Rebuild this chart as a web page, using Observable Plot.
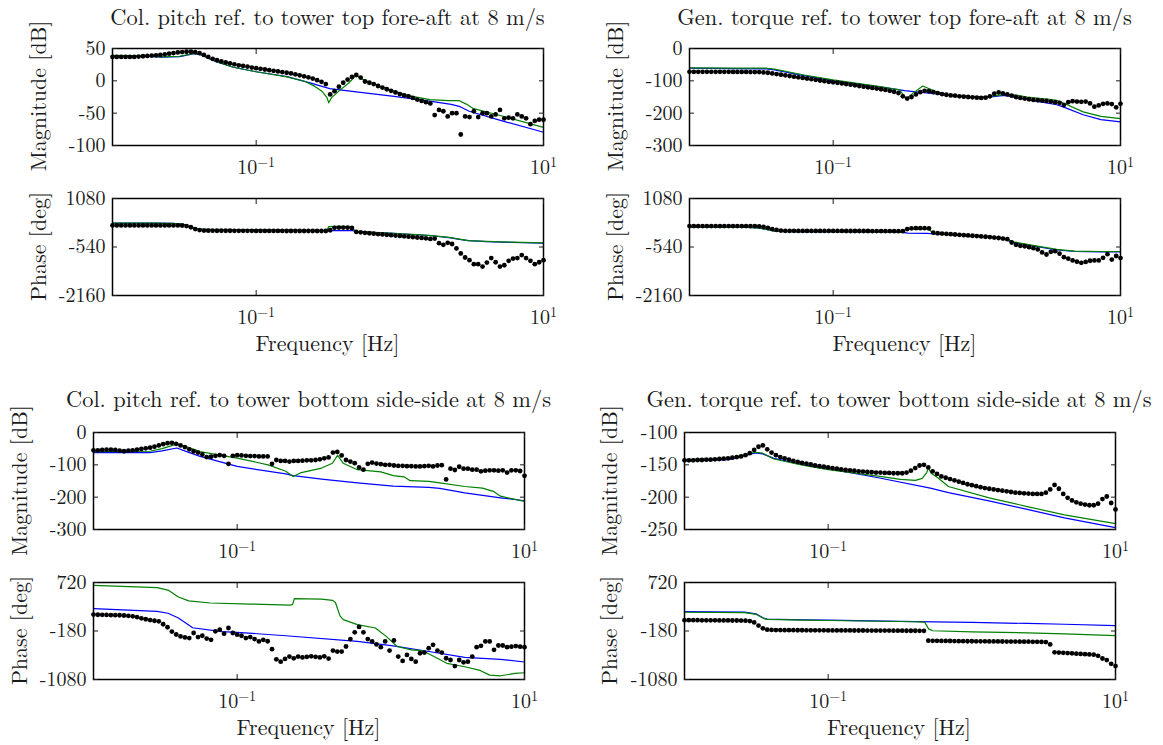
<!DOCTYPE html>
<html>
<head>
<meta charset="utf-8">
<script src="https://cdn.jsdelivr.net/npm/d3@7"></script>
<script src="https://cdn.jsdelivr.net/npm/@observablehq/plot@0.6"></script>
<style>
html,body{margin:0;padding:0;background:#fff;}
#fig{position:relative;width:1163px;height:745px;overflow:hidden;background:#fff;font-family:'Latin Modern Roman','Liberation Serif',serif;color:#1a1a1a;}
#fig svg{position:absolute;}
</style>
</head>
<body>
<div id="fig"></div>
<script>
// ---------------- DATA ----------------
const titles = [
  "Col. pitch ref. to tower top fore-aft at 8 m/s",
  "Gen. torque ref. to tower top fore-aft at 8 m/s",
  "Col. pitch ref. to tower bottom side-side at 8 m/s",
  "Gen. torque ref. to tower bottom side-side at 8 m/s"
];
const magLabel = "Magnitude [dB]";
const phaseLabel = "Phase [deg]";
const freqLabel = "Frequency [Hz]";

const xTicks = [0.1, 10];
const xTickLabels = ["10^-1", "10^1"];

const tlMagTicks = [-100, -50, 0, 50];
const trMagTicks = [-300, -200, -100, 0];
const blMagTicks = [-300, -200, -100, 0];
const brMagTicks = [-250, -200, -150, -100];
const topPhaseTicks = [-2160, -540, 1080];
const bottomPhaseTicks = [-1080, -180, 720];

// frequencies of the measured (black) points
const dotFreq = [0.01,0.01072,0.0115,0.01233,0.01322,0.01418,0.0152,0.0163,0.01748,0.01874,
0.02009,0.02154,0.0231,0.02477,0.02656,0.02848,0.03054,0.03275,0.03511,0.03765,
0.04037,0.04329,0.04642,0.04977,0.05337,0.05722,0.06136,0.06579,0.07055,0.07565,
0.08111,0.08697,0.09326,
0.1,0.1072,0.115,0.1233,0.1322,0.1418,0.152,0.163,0.1748,0.1874,
0.2009,0.2154,0.231,0.2477,0.2656,0.2848,0.3054,0.3275,0.3511,0.3765,
0.4037,0.4329,0.4642,0.4977,0.5337,0.5722,0.6136,0.6579,0.7055,0.7565,
0.8111,0.8697,0.9326,
1,1.072,1.15,1.233,1.322,1.418,1.52,1.63,1.748,1.874,
2.009,2.154,2.31,2.477,2.656,2.848,3.054,3.275,3.511,3.765,
4.037,4.329,4.642,4.977,5.337,5.722,6.136,6.579,7.055,7.565,
8.111,8.697,9.326,10];

// ---- top-left: col. pitch -> tower top fore-aft
const tlMagDots = [37,37,37,37,37,37,37.5,38,38.5,39, 39.5,40,41,42,43,44,44.5,45,45,44.5,
 43,40,37,34,32,30,28.5,27,25.5,24, 23,22,20.5,19.5,18.5,17.5,16.5,15.5,14.5,13.5,
 12.5,11.5,10,8.5,7,5.5,3.5,1,-1.5,-5, -21,-16,-9,-3,2,6,9,5,-1,-3,
 -5,-8,-10.5,-13,-15.5,-18,-20.5,-22.5,-24,-26.5, -29,-31,-33,-35,-53,-45,-47,-55,-50,-50,
 -83,-55,-56,-47,-56,-50,-50,-55,-52,-45, -58,-57,-58,-52,-55,-58,-67,-62,-60,-60];
const tlMagBlue = [[0.01,39],[0.0166,38],[0.022,36.5],[0.0294,37.5],[0.0369,42],[0.0414,40],[0.052,30],[0.0693,21],[0.1,14],[0.164,6.5],[0.244,-4],[0.325,-12],[0.514,-17.5],[0.912,-24],[1.617,-31.5],[2.28,-36.5],[2.63,-40],[3.04,-47],[5.08,-61.5],[10,-79.5]];
const tlMagGreen = [[0.01,39.5],[0.0166,38.5],[0.022,37],[0.0294,38],[0.0369,42.5],[0.0414,40.5],[0.052,30.5],[0.0693,21],[0.1,14],[0.164,6],[0.22,-1],[0.258,-9],[0.29,-17],[0.311,-26],[0.32,-34],[0.335,-26],[0.385,-14],[0.443,-3],[0.497,9],[0.54,3],[0.68,-6],[0.912,-16],[1.22,-24],[1.62,-29],[2.17,-30.5],[2.58,-30.5],[2.9,-36],[3.26,-43],[5.08,-54],[10,-72]];
const tlPhaseDots = [180,180,180,180,180,180,180,180,180,180,180,180,180,180,180,180,
 175,160,120,60,25,10,
 5,5,3,3,2,2,0,0,0,0, 0,-2,-2,-2,-3,-3,-3,-3,-5,-5, -5,-5,-5,-5,-5,-5,-5,-5,
 20,100,108,108,105,95,
 -35,-50,-65,-80,-95,-108,-120,-132,-145,-158,-170,-183,-195,-208,-222,-238,
 -250,-270,-258,-413,-469,-400,-439,-587,-756,-891,-979,-1114,-1114,-1195,-1060,-911,-1050,-1195,-1150,-1002,-926,-911,-810,-911,-1002,-1114,-1050,-979];
const tlPhaseBlue = [[0.01,260],[0.02,255],[0.026,248],[0.031,225],[0.035,130],[0.04,60],[0.05,40],[0.1,30],[0.2,20],[0.31,10],[0.47,5],[0.5,-25],[0.9,-80],[1.6,-155],[2.2,-225],[2.6,-285],[3.0,-330],[4,-360],[6,-385],[10,-415]];
const tlPhaseGreen = [[0.01,260],[0.02,255],[0.026,248],[0.031,225],[0.035,130],[0.04,60],[0.05,40],[0.1,30],[0.2,20],[0.31,10],[0.32,140],[0.35,150],[0.46,140],[0.49,-20],[0.5,-25],[0.9,-80],[1.6,-150],[2.2,-220],[2.6,-280],[3.0,-325],[4,-355],[6,-380],[10,-405]];

// ---- top-right: gen. torque -> tower top fore-aft
const trMagDots = [-72,-72,-72,-72,-72,-72,-72,-72,-72,-72, -72.5,-72.5,-72.5,-72.5,-73,-73,-73,-74,-75,-77,
 -79,-81,-83,-85,-87,-89,-91,-93,-95,-97, -99,-101,-103,-104.5,-106,-108,-110,-112,-114,-116,
 -118,-120,-122,-124,-126,-128,-131,-134,-138,-148, -155,-150,-142,-135,-131,-132,-135,-138,-141,-143,
 -145,-146,-148,-149,-150,-151,-152,-153,-152,-148, -140,-136,-139,-142,-146,-150,-153,-155,-157,-159,
 -160,-161,-162,-164,-166,-168,-175,-166,-163,-164, -165,-164,-170,-180,-176,-171,-170,-172,-182,-171];
const trMagBlue = [[0.01,-61],[0.02,-62],[0.0345,-63],[0.039,-66],[0.0627,-84],[0.1,-100],[0.206,-118],[0.314,-130],[0.505,-140],[0.67,-146],[1.08,-151],[1.3,-149],[1.56,-145],[1.8,-150],[2.24,-158],[3.6,-174],[4.07,-182],[5.5,-205],[7.3,-220],[10,-227]];
const trMagGreen = [[0.01,-60],[0.02,-61],[0.0345,-61],[0.039,-64],[0.0627,-82],[0.1,-97],[0.206,-117],[0.29,-128],[0.322,-155],[0.36,-138],[0.42,-116],[0.53,-135],[0.67,-146],[1.08,-150],[1.37,-146],[1.6,-141],[1.85,-144],[2.24,-150],[3.2,-157],[3.6,-160],[4.07,-170],[5.5,-196],[7.3,-210],[10,-217]];
const trPhaseDots = [160,160,160,160,160,160,160,160,160,160,160,160,160,160,160,160,
 150,130,100,60,30,10,
 0,0,0,-2,-2,-2,-2,-3,-3,-3, -3,-4,-4,-4,-5,-5,-5,-6,-6,-6, -7,-7,-8,-8,-9,-10,-11,-12,
 60,85,90,90,88,80,
 -60,-80,-90,-100,-112,-123,-134,-145,-155,-165,-176,-187,-198,-210,-225,-240,
 -260,-280,-390,-465,-500,-515,-545,-580,-620,-720,-790,-700,-680,-760,-880,-930,-990,-1030,-1070,-1040,-1000,-990,-990,-900,-780,-960,-840,-910];
const trPhaseBlue = [[0.01,120],[0.025,115],[0.03,100],[0.035,40],[0.04,-20],[0.05,-25],[0.1,-28],[0.3,-45],[0.33,-75],[0.45,-85],[0.53,-105],[0.91,-170],[1.47,-245],[1.6,-300],[1.8,-390],[2.24,-470],[3.6,-640],[4.8,-690],[7.3,-700],[10,-700]];
const trPhaseGreen = [[0.01,120],[0.025,115],[0.03,100],[0.035,40],[0.04,-20],[0.05,-25],[0.1,-28],[0.3,-45],[0.32,55],[0.46,60],[0.5,-95],[0.53,-105],[0.91,-170],[1.47,-240],[1.6,-290],[1.8,-370],[2.24,-450],[3.6,-620],[4.8,-675],[7.3,-690],[10,-690]];

// ---- bottom-left: col. pitch -> tower bottom side-side
const blMagDots = [-55,-55,-54,-53,-53,-54,-56,-58,-56,-55, -53,-51,-49,-47,-44,-40,-36,-33,-32,-35,
 -40,-45,-52,-58,-62,-68,-76,-75,-72,-70, -72,-97,-72,-70,-71,-72,-73,-73,-74,-74,
 -74,-97,-85,-88,-88,-90,-88,-88,-87,-86, -86,-85,-83,-80,-77,-62,-60,-71,-85,-90,
 -95,-108,-115,-97,-93,-96,-98,-100,-100,-102, -103,-103,-104,-104,-105,-105,-104,-103,-105,-102,
 -101,-145,-112,-116,-106,-112,-112,-115,-115,-120, -118,-117,-117,-118,-117,-124,-117,-117,-119,-134];
const blMagBlue = [[0.01,-62],[0.0247,-62],[0.03,-57],[0.038,-48],[0.045,-60],[0.0552,-74],[0.1,-105],[0.218,-128],[0.245,-133.6],[0.387,-144],[0.687,-156],[1.22,-166],[2.16,-170],[2.57,-173],[3.84,-187],[6.81,-202],[10,-211]];
const blMagGreen = [[0.01,-59],[0.0247,-58],[0.03,-50],[0.038,-36],[0.045,-45],[0.0552,-59],[0.1,-79],[0.164,-100],[0.218,-120],[0.245,-136],[0.275,-125],[0.387,-110],[0.46,-95],[0.5,-71],[0.547,-95],[0.687,-115],[0.916,-120],[1.0,-122],[1.22,-133.6],[1.45,-137],[1.6,-149],[2.16,-151],[2.57,-156],[3.84,-167],[5.1,-172],[6.07,-182],[6.81,-197],[10,-213]];
const blPhaseDots = [125,122,120,118,116,114,112,108,102,92, 78,55,38,22,10,0,-55,-110,-190,-245,
 -280,-300,-311,-217,-293,-268,-320,-343,-186,-155, -230,-124,-217,-249,-268,-311,-293,-330,-374,-343,
 -370,-517,-705,-749,-699,-655,-687,-655,-670,-660, -650,-660,-670,-650,-692,-543,-561,-561,-468,-330,
 -205,-105,-205,-330,-374,-430,-480,-374,-543,-355, -655,-736,-624,-699,-749,-593,-580,-499,-436,-543,
 -580,-686,-718,-830,-718,-761,-749,-655,-480,-455, -374,-374,-530,-449,-449,-480,-470,-460,-470,-480];
const blPhaseBlue = [[0.01,235],[0.0277,185],[0.033,150],[0.039,60],[0.049,-120],[0.078,-190],[0.1,-205],[0.218,-268],[0.687,-374],[1.22,-455],[2.16,-561],[3.84,-668],[6.81,-705],[10,-755]];
const blPhaseGreen = [[0.01,665],[0.0277,625],[0.033,580],[0.039,450],[0.046,380],[0.065,340],[0.123,320],[0.232,300],[0.243,310],[0.25,420],[0.387,410],[0.46,390],[0.483,350],[0.52,100],[0.547,32],[0.687,-61],[0.916,-124],[1.09,-280],[1.3,-467],[1.63,-530],[1.93,-543],[2.29,-640],[2.88,-780],[3.84,-843],[4.83,-905],[5.73,-999],[6.81,-1011],[8.57,-968],[10,-955]];

// ---- bottom-right: gen. torque -> tower bottom side-side
const brMagDots = [-143,-143,-143,-142.5,-142.5,-142,-142,-141.5,-141,-140.5, -140,-139,-138,-137,-135,-132,-127,-122,-120,-126,
 -131,-135,-138,-140,-142,-144,-145.5,-147,-148,-149.5, -151,-152,-153,-154,-155,-156,-157,-158,-158.5,-159,
 -160,-160.5,-161,-161.5,-162,-162,-162.5,-162.5,-163,-163, -163,-162,-159,-155,-151,-150,-154,-160,-164,-168,
 -170,-172,-174,-176,-178,-180,-181.5,-183,-184.5,-186, -187,-188,-189,-190,-191,-192,-193,-193.5,-194,-194.5,
 -195,-195,-195,-193,-188,-181,-187,-195,-201,-205, -208,-210,-211.5,-212.5,-212.5,-210,-203,-199,-209,-219];
const brMagBlue = [[0.01,-144],[0.0205,-142],[0.0311,-131.5],[0.035,-133],[0.042,-140],[0.0676,-150],[0.1,-156],[0.223,-170],[0.514,-186],[0.687,-193],[1.34,-206],[2.43,-219],[4.41,-232],[10,-247]];
const brMagGreen = [[0.01,-142],[0.0205,-140],[0.0311,-130.5],[0.035,-132],[0.042,-141],[0.0676,-151],[0.1,-157.5],[0.223,-167.5],[0.319,-172.5],[0.405,-174],[0.452,-171],[0.485,-162],[0.5,-155],[0.52,-163],[0.58,-170],[0.687,-183.5],[1.34,-201.5],[2.43,-214.5],[4.41,-227.5],[10,-241]];
const brPhaseDots = [20,20,20,20,19,19,18,18,17,17, 16,15,15,14,12,5,-20,-80,-130,-155,
 -160,-162,-163,-164,-165,-165,-166,-166,-167,-167, -168,-168,-168,-169,-169,-169,-170,-170,-170,-171,
 -171,-171,-172,-172,-172,-173,-173,-173,-174,-174, -174,-175,-175,-175,-176,-176,-360,-362,-363,-364,
 -365,-366,-367,-368,-369,-370,-370,-371,-372,-372, -373,-374,-374,-375,-376,-376,-377,-378,-378,-379,
 -380,-381,-382,-385,-430,-575,-580,-585,-590,-595, -600,-605,-610,-615,-620,-640,-690,-720,-790,-830];
const brPhaseBlue = [[0.01,178],[0.0262,170],[0.0314,140],[0.0354,60],[0.0376,40],[0.068,25],[0.1,20],[0.407,-5],[0.74,-15],[1,-20],[2.43,-40],[4.42,-55],[10,-80]];
const brPhaseGreen = [[0.01,168],[0.0262,162],[0.0314,130],[0.0354,55],[0.0376,35],[0.068,20],[0.1,15],[0.407,-8],[0.47,-15],[0.5,-140],[0.533,-175],[1,-195],[2.43,-215],[4.42,-235],[10,-265]];

// ---------------- LAYOUT / DRAW ----------------
const FONT = "'Latin Modern Roman','Liberation Serif',serif";
const TXT = "#1a1a1a";
const fig = document.getElementById("fig");
const FW = 431, FH = 97, ML = 80, MR = 30, MT = 10, MB = 40;
const fmtY = d => String(d);
const fmtX = d => xTickLabels[xTicks.indexOf(d)];
const SVGNS = "http://www.w3.org/2000/svg";

function drawPanel(left, top, domain, ticks, blue, green, dotVals) {
  const dots = dotFreq.map((f, i) => ({f, v: dotVals[i]}));
  const svg = Plot.plot({
    width: FW + ML + MR, height: FH + MT + MB,
    marginLeft: ML, marginRight: MR, marginTop: MT, marginBottom: MB,
    x: {type: "log", domain: [0.01, 10]},
    y: {domain},
    style: {background: "transparent", overflow: "visible", color: TXT},
    marks: [
      Plot.line(blue, {x: d => d[0], y: d => d[1], stroke: "#0000ff", strokeWidth: 1.2}),
      Plot.line(green, {x: d => d[0], y: d => d[1], stroke: "#008000", strokeWidth: 1.2}),
      Plot.dot(dots, {x: "f", y: "v", r: 2.4, fill: "#000", stroke: "none"}),
      Plot.frame({stroke: "#000", strokeWidth: 1.5}),
      Plot.axisX(xTicks, {anchor: "bottom", tickSize: 0, tickPadding: 14.5, tickFormat: fmtX, label: null}),
      Plot.axisX(xTicks, {anchor: "bottom", tickSize: -5, tickFormat: () => "", label: null}),
      Plot.axisX(xTicks, {anchor: "top", tickSize: -5, tickFormat: () => "", label: null}),
      Plot.axisY(ticks, {anchor: "left", tickSize: 0, tickPadding: 7, tickFormat: fmtY, label: null}),
      Plot.axisY(ticks, {anchor: "left", tickSize: -5, tickFormat: () => "", label: null}),
      Plot.axisY(ticks, {anchor: "right", tickSize: -5, tickFormat: () => "", label: null})
    ]
  });
  svg.setAttribute("font-family", FONT);
  svg.setAttribute("font-size", "20");
  svg.style.setProperty("font-family", FONT);
  svg.style.setProperty("font-size", "20px");
  svg.style.left = (left - ML) + "px";
  svg.style.top = (top - MT) + "px";
  svg.querySelectorAll("text").forEach(t => { t.setAttribute("font-family", FONT); t.style.fontFamily = FONT; });
  svg.querySelectorAll('g[aria-label="x-axis tick label"] text').forEach(t => {
    const s = t.textContent;
    if (!s || s.indexOf("^") < 0) return;
    const [base, exp] = s.split("^");
    t.textContent = "";
    const a = document.createElementNS(SVGNS, "tspan"); a.textContent = base;
    const b = document.createElementNS(SVGNS, "tspan");
    b.setAttribute("dy", "-0.5em"); b.setAttribute("font-size", "0.7em");
    b.textContent = exp.replace("-", "\u2212");
    t.append(a, b);
  });
  fig.appendChild(svg);
}

const blocks = [
  {left: 112,   magTop: 47.5, phTop: 198, title: titles[0], magDom: [-100, 50],  magTicks: tlMagTicks, phDom: [-2160, 1080], phTicks: topPhaseTicks,
   mb: tlMagBlue, mg: tlMagGreen, md: tlMagDots, pb: tlPhaseBlue, pg: tlPhaseGreen, pd: tlPhaseDots},
  {left: 689,   magTop: 47.5, phTop: 198, title: titles[1], magDom: [-300, 0],   magTicks: trMagTicks, phDom: [-2160, 1080], phTicks: topPhaseTicks,
   mb: trMagBlue, mg: trMagGreen, md: trMagDots, pb: trPhaseBlue, pg: trPhaseGreen, pd: trPhaseDots},
  {left: 93,    magTop: 432,  phTop: 582, title: titles[2], magDom: [-300, 0],   magTicks: blMagTicks, phDom: [-1080, 720], phTicks: bottomPhaseTicks,
   mb: blMagBlue, mg: blMagGreen, md: blMagDots, pb: blPhaseBlue, pg: blPhaseGreen, pd: blPhaseDots},
  {left: 683.5, magTop: 432,  phTop: 582, title: titles[3], magDom: [-250, -100], magTicks: brMagTicks, phDom: [-1080, 720], phTicks: bottomPhaseTicks,
   mb: brMagBlue, mg: brMagGreen, md: brMagDots, pb: brPhaseBlue, pg: brPhaseGreen, pd: brPhaseDots}
];

for (const b of blocks) {
  drawPanel(b.left, b.magTop, b.magDom, b.magTicks, b.mb, b.mg, b.md);
  drawPanel(b.left, b.phTop, b.phDom, b.phTicks, b.pb, b.pg, b.pd);
}

// overlay with titles and axis labels (real SVG text, positioned by baseline)
const ov = d3.select(fig).append("svg")
  .attr("width", 1163).attr("height", 745)
  .style("left", "0px").style("top", "0px").style("pointer-events", "none")
  .attr("font-family", FONT).attr("fill", TXT);
for (const b of blocks) {
  const cx = b.left + FW / 2;
  ov.append("text").attr("x", cx).attr("y", Math.max(b.magTop - 25, 24.5)).attr("text-anchor", "middle")
    .attr("font-size", 22.4).text(b.title);
  ov.append("text").attr("transform", `translate(${b.left - 66.5},${b.magTop + FH / 2}) rotate(-90)`)
    .attr("text-anchor", "middle").attr("font-size", 22).text(magLabel);
  ov.append("text").attr("transform", `translate(${b.left - 66.5},${b.phTop + FH / 2}) rotate(-90)`)
    .attr("text-anchor", "middle").attr("font-size", 22).text(phaseLabel);
  ov.append("text").attr("x", cx).attr("y", b.phTop + FH + 56).attr("text-anchor", "middle")
    .attr("font-size", 22).text(freqLabel);
}
</script>
</body>
</html>
